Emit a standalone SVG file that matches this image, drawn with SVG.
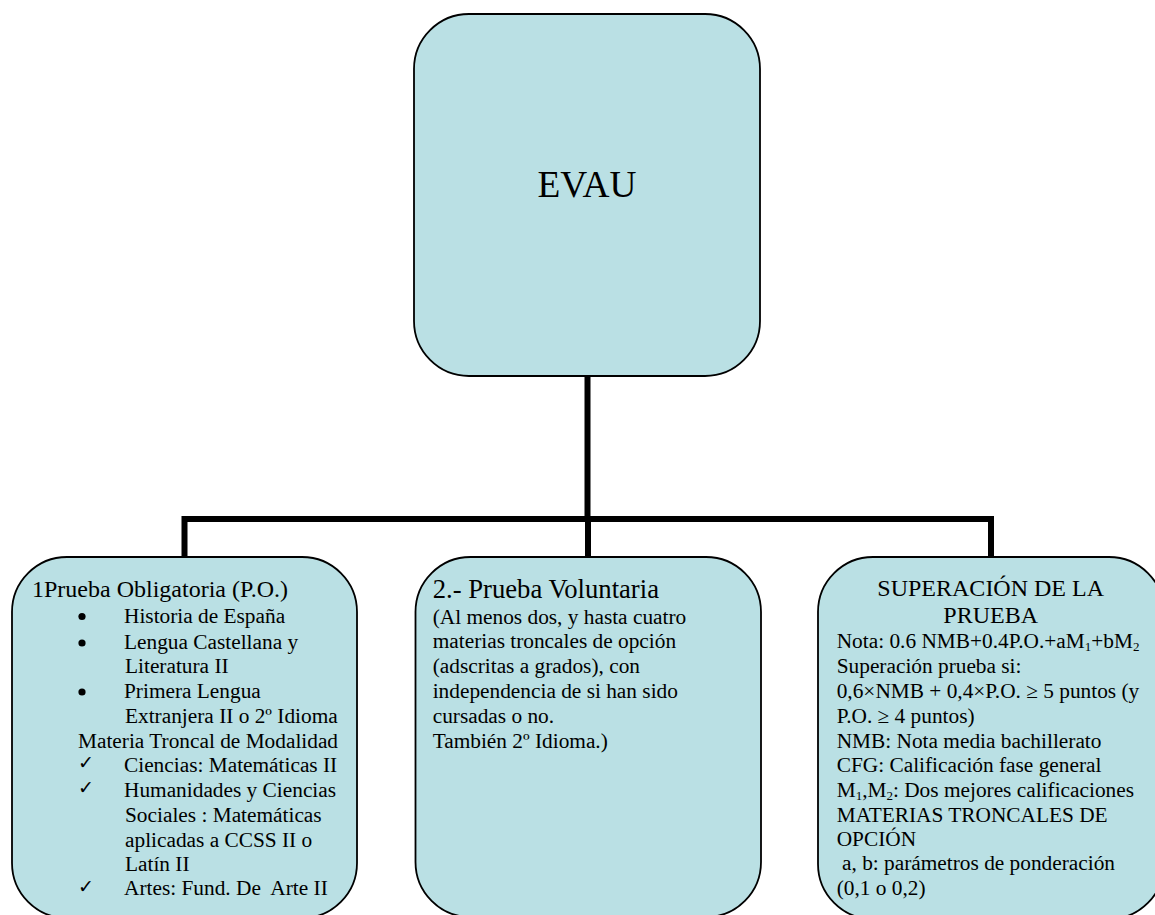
<svg xmlns="http://www.w3.org/2000/svg" width="1155" height="915" viewBox="0 0 1155 915">
<style>
.box{fill:#BAE0E4;stroke:#000;stroke-width:1.8}
.conn{fill:none;stroke:#000;stroke-width:6;stroke-linejoin:miter}
.dot{fill:#000}
text{font-family:"Liberation Serif","Times New Roman",serif;fill:#000}
.b{font-size:21.33px}
.h18{font-size:24px}
.h20{font-size:26.67px}
.ck{font-family:"DejaVu Sans",sans-serif;font-size:19px}
</style>
<rect width="1155" height="915" fill="#fff"/>
<g id="connectors">
<path class="conn" d="M587.5,376 V519"/>
<path class="conn" d="M184.5,557 V519 H991 V557"/>
<path class="conn" d="M588,519 V557"/>
</g>
<g id="evau">
<rect class="box" x="414" y="14" width="346" height="362" rx="55" ry="55"/>
<text x="587" y="197" font-size="37.33" text-anchor="middle">EVAU</text>
</g>
<g id="prueba-obligatoria">
<rect class="box" x="12" y="557" width="345" height="361" rx="55" ry="55"/>
<text class="h18" x="32" y="597">1Prueba Obligatoria (P.O.)</text>
<circle class="dot" cx="82" cy="616.5" r="3.6"/>
<text class="b" x="124" y="622.7">Historia de España</text>
<circle class="dot" cx="82" cy="643" r="3.6"/>
<text class="b" x="124" y="649.3">Lengua Castellana y</text>
<text class="b" x="125" y="673.3">Literatura II</text>
<circle class="dot" cx="82" cy="692" r="3.6"/>
<text class="b" x="124" y="698.3">Primera Lengua</text>
<text class="b" x="125" y="723.3">Extranjera II o 2º Idioma</text>
<text class="b" x="78" y="748.3">Materia Troncal de Modalidad</text>
<text class="ck" x="78" y="769">✓</text>
<text class="b" x="124" y="771.7">Ciencias: Matemáticas II</text>
<text class="ck" x="78" y="794">✓</text>
<text class="b" x="124" y="796.7">Humanidades y Ciencias</text>
<text class="b" x="125" y="821.7">Sociales : Matemáticas</text>
<text class="b" x="125" y="846.7">aplicadas a CCSS II o</text>
<text class="b" x="125" y="870.7">Latín II</text>
<text class="ck" x="78" y="892.5">✓</text>
<text class="b" x="124" y="895" xml:space="preserve">Artes: Fund. De  Arte II</text>
</g>
<g id="prueba-voluntaria">
<rect class="box" x="415.5" y="557" width="345.5" height="360" rx="55" ry="55"/>
<text class="h20" x="432.7" y="598">2.- Prueba Voluntaria</text>
<text class="b" x="432.7" y="624">(Al menos dos, y hasta cuatro</text>
<text class="b" x="432.7" y="648.3">materias troncales de opción</text>
<text class="b" x="432.7" y="673.3">(adscritas a grados), con</text>
<text class="b" x="432.7" y="698.3">independencia de si han sido</text>
<text class="b" x="432.7" y="723.3">cursadas o no.</text>
<text class="b" x="432.7" y="748.3">También 2º Idioma.)</text>
</g>
<g id="superacion">
<rect class="box" x="818" y="557" width="346" height="362" rx="55" ry="55"/>
<text class="h18" x="990.7" y="595.7" text-anchor="middle">SUPERACIÓN DE LA</text>
<text class="h18" x="990.7" y="623.3" text-anchor="middle">PRUEBA</text>
<text class="b" x="836.7" y="648.3">Nota: 0.6 NMB+0.4P.O.+aM<tspan font-size="13" dy="3">1</tspan><tspan dy="-3">+bM</tspan><tspan font-size="13" dy="3">2</tspan></text>
<text class="b" x="836.7" y="673.3">Superación prueba si:</text>
<text class="b" x="836.7" y="698.3">0,6×NMB + 0,4×P.O. ≥ 5 puntos (y</text>
<text class="b" x="836.7" y="723.3">P.O. ≥ 4 puntos)</text>
<text class="b" x="836.7" y="748.3">NMB: Nota media bachillerato</text>
<text class="b" x="836.7" y="771.7">CFG: Calificación fase general</text>
<text class="b" x="836.7" y="796.7">M<tspan font-size="13" dy="3">1</tspan><tspan dy="-3">,M</tspan><tspan font-size="13" dy="3">2</tspan><tspan dy="-3">: Dos mejores calificaciones</tspan></text>
<text class="b" x="836.7" y="821.7">MATERIAS TRONCALES DE</text>
<text class="b" x="836.7" y="846">OPCIÓN</text>
<text class="b" x="842" y="870">a, b: parámetros de ponderación</text>
<text class="b" x="836.7" y="895">(0,1 o 0,2)</text>
</g>
</svg>
